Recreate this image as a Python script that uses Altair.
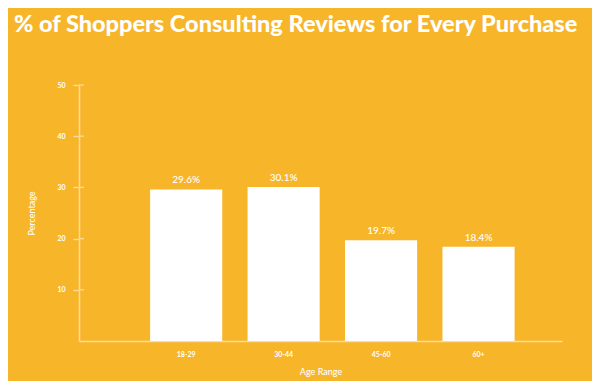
import altair as alt
import pandas as pd

ages = ["18-29", "30-44", "45-60", "60+"]
values = [29.6, 30.1, 19.7, 18.4]
labels = ["29.6%", "30.1%", "19.7%", "18.4%"]
y_ticks = [10, 20, 30, 40, 50]

df = pd.DataFrame({"age": ages, "value": values, "label": labels})
ticks_df = pd.DataFrame({"t": y_ticks})

ORANGE = "#F7B52A"
AXIS = "#FCDC98"
FONT = "Lato"

x_scale = alt.Scale(domain=ages, paddingInner=0.26, paddingOuter=0.608, align=0.6)
y_scale = alt.Scale(domain=[0, 50], nice=False)

base = alt.Chart(df)

bars = base.mark_bar(color="white").encode(
    x=alt.X("age:N", scale=x_scale, sort=ages,
            axis=alt.Axis(title="Age Range", labelAngle=0, ticks=False,
                          labelPadding=9, titlePadding=10)),
    y=alt.Y("value:Q", scale=y_scale,
            axis=alt.Axis(title="Percentage", values=y_ticks, tickSize=6,
                          labelPadding=8, titlePadding=20, grid=False)),
)

text = base.mark_text(color="white", dy=-9, fontSize=10, font=FONT, fontWeight=500).encode(
    x=alt.X("age:N", scale=x_scale, sort=ages),
    y=alt.Y("value:Q", scale=y_scale),
    text="label:N",
)

inner_ticks = alt.Chart(ticks_df).mark_rule(color=AXIS, strokeWidth=1.3).encode(
    y=alt.Y("t:Q", scale=y_scale),
    x=alt.value(0),
    x2=alt.value(5),
)

chart = alt.layer(bars, text, inner_ticks).properties(
    width=483,
    height=256,
    background=ORANGE,
    autosize=alt.AutoSizeParams(type="none"),
    padding={"left": 71, "top": 77, "right": 30, "bottom": 40},
    title=alt.TitleParams(
        "% of Shoppers Consulting Reviews for Every Purchase",
        font=FONT, fontSize=23.5, fontWeight=900, color="white",
        anchor="start", frame="group", dx=-65, offset=45,
    ),
).configure_view(stroke=None).configure_axis(
    domainColor=AXIS, domainWidth=1.5, tickColor=AXIS, tickWidth=1.3,
    labelColor="white", labelFont=FONT, labelFontSize=7, labelFontWeight="bold",
    titleColor="white", titleFont=FONT, titleFontSize=9, titleFontWeight=500,
)

chart.save("out.html", embed_options={"renderer": "svg", "actions": False})
